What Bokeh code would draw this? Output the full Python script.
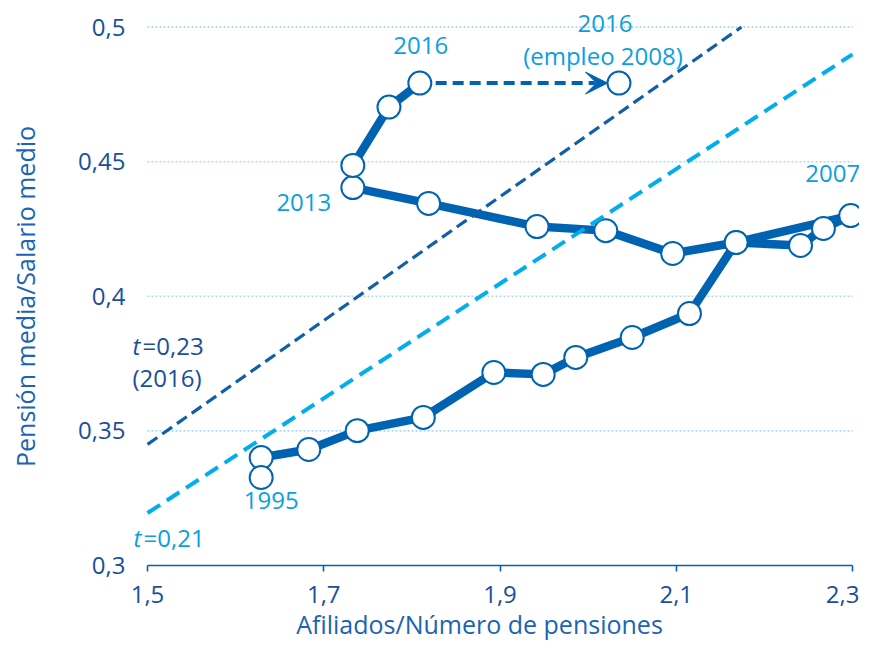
from bokeh.plotting import figure
from bokeh.models import ColumnDataSource, LabelSet, Arrow, VeeHead, FixedTicker, Range1d, LinearAxis
from bokeh.core.properties import value
from bokeh.embed import file_html
from bokeh.resources import INLINE

# ---- data ----
years_up_to_2007 = list(range(1995, 2008))
x_1995_2007 = [1.629, 1.683, 1.738, 1.813, 1.893, 1.949, 1.986, 2.050, 2.115, 2.168, 2.241, 2.267, 2.298]
y_1995_2007 = [0.3401, 0.3431, 0.3501, 0.3550, 0.3717, 0.3710, 0.3773, 0.3847, 0.3936, 0.4200, 0.4189, 0.4252, 0.4300]
years_2008_2016 = list(range(2008, 2017))
x_2008_2016 = [2.168, 2.096, 2.020, 1.942, 1.819, 1.733, 1.733, 1.774, 1.809]
y_2008_2016 = [0.4200, 0.4159, 0.4244, 0.4259, 0.4345, 0.4404, 0.4486, 0.4703, 0.4792]
x_extra = [1.629]
y_extra = [0.3327]
x_2016_empleo2008 = [2.035]
y_2016_empleo2008 = [0.4792]

t_values = [0.23, 0.213]
t_x_start = [1.5, 1.5]
t_y_top = 0.5
t_x_limit = 2.3

x_ticks = [1.5, 1.7, 1.9, 2.1, 2.3]
x_tick_labels = ["1,5", "1,7", "1,9", "2,1", "2,3"]
y_ticks = [0.3, 0.35, 0.4, 0.45, 0.5]
y_tick_labels = ["0,3", "0,35", "0,4", "0,45", "0,5"]

x_title = "Afiliados/Número de pensiones"
y_title = "Pensión media/Salario medio"

# ---- styles ----
FONT = "Open Sans"
MAIN = "#0063B1"
DARK_DASH = "#125FA9"
LIGHT_DASH = "#00AEEF"
CYAN_TXT = "#0AA0E0"
NAVY_TXT = "#1A4F9A"
TITLE_TXT = "#1A64B3"
GRID = "#A6DBF3"

p = figure(width=859, height=641,
           x_range=Range1d(1.33319, 2.307943), y_range=Range1d(0.27177, 0.50803),
           output_backend="svg", toolbar_location=None,
           min_border_left=0, min_border_right=0, min_border_top=5, min_border_bottom=0)
p.outline_line_color = None
p.xgrid.visible = False
p.ygrid.visible = False
p.background_fill_color = "white"

# grid lines (dotted) over the x extent of the axis
gy = [v for v in y_ticks if v > y_ticks[0]]
p.segment(x0=[x_ticks[0]] * len(gy), x1=[x_ticks[-1]] * len(gy), y0=gy, y1=gy,
          line_color=GRID, line_width=1.6, line_dash="2 2")

# x axis (ticks and labels)
xa = p.xaxis[0]
xa.fixed_location = y_ticks[0]
xa.ticker = FixedTicker(ticks=x_ticks)
xa.major_label_overrides = dict(zip(x_ticks, x_tick_labels))
xa.bounds = (x_ticks[0], x_ticks[-1])
xa.axis_line_color = MAIN
xa.axis_line_width = 1.6
xa.major_tick_line_color = MAIN
xa.major_tick_line_width = 1.6
xa.major_tick_out = 6
xa.major_tick_in = 0
xa.minor_tick_line_color = None
xa.major_label_text_font = FONT
xa.major_label_text_font_size = "24px"
xa.major_label_text_color = NAVY_TXT
xa.major_label_standoff = 14

# x axis title (separate, line-less axis so the title can be centred where the original is)
xt = LinearAxis(fixed_location=y_ticks[0], ticker=FixedTicker(ticks=[]), bounds=(1.48, 2.2734),
                axis_line_color=None, major_tick_line_color=None, minor_tick_line_color=None,
                major_tick_out=0, major_tick_in=0, major_label_standoff=0,
                axis_label=x_title, axis_label_text_font=FONT, axis_label_text_font_size="25px",
                axis_label_text_font_style="normal", axis_label_text_color=TITLE_TXT,
                axis_label_standoff=41)
p.add_layout(xt, "below")

# y axis, pinned just left of x = 1.5 so its title is centred on 0.3-0.5
ya = p.yaxis[0]
ya.fixed_location = 1.479574
ya.ticker = FixedTicker(ticks=y_ticks)
ya.major_label_overrides = dict(zip(y_ticks, y_tick_labels))
ya.bounds = (y_ticks[0], y_ticks[-1])
ya.axis_line_color = None
ya.major_tick_line_color = None
ya.minor_tick_line_color = None
ya.major_tick_out = 0
ya.major_tick_in = 0
ya.major_label_text_font = FONT
ya.major_label_text_font_size = "24px"
ya.major_label_text_color = NAVY_TXT
ya.major_label_standoff = 4
ya.axis_label = y_title
ya.axis_label_text_font = FONT
ya.axis_label_text_font_size = "25px"
ya.axis_label_text_font_style = "normal"
ya.axis_label_text_color = TITLE_TXT
ya.axis_label_standoff = 33

# main path
path_x = x_1995_2007 + x_2008_2016
path_y = y_1995_2007 + y_2008_2016
p.line(path_x, path_y, line_color=MAIN, line_width=8.5, line_join="round", line_cap="round")

# dashed arrow 2016 -> 2016 (empleo 2008)
p.add_layout(Arrow(x_start=x_2008_2016[-1] + 0.018, y_start=y_2008_2016[-1],
                   x_end=x_2016_empleo2008[0] - 0.013, y_end=y_2016_empleo2008[0],
                   line_color=MAIN, line_width=4, line_dash="11 6",
                   end=VeeHead(size=22, fill_color=MAIN, line_color=MAIN, line_width=1)))

# markers
p.scatter(path_x + x_extra + x_2016_empleo2008, path_y + y_extra + y_2016_empleo2008,
          size=23, fill_color="white", line_color=MAIN, line_width=2)

# t lines: y = t * x
dark_x = [t_x_start[0], t_y_top / t_values[0]]
p.line(dark_x, [t_values[0] * v for v in dark_x], line_color=DARK_DASH, line_width=3.2, line_dash="12 6")
light_x = [t_x_start[1], t_x_limit]
p.line(light_x, [t_values[1] * v for v in light_x], line_color=LIGHT_DASH, line_width=4, line_dash="15 8")

# point labels (centered, pixel offsets from anchor point)
lab_text = ["2016", "2016", "(empleo 2008)", "2013", "2007", "1995"]
lab_x = [x_2008_2016[-1], x_2016_empleo2008[0], x_2016_empleo2008[0], x_2008_2016[5], x_1995_2007[-1], x_extra[0]]
lab_y = [y_2008_2016[-1], y_2016_empleo2008[0], y_2016_empleo2008[0], y_2008_2016[5], y_1995_2007[-1], y_extra[0]]
lab_dx = [1, -14, -16, -49, -18, 10]
lab_dy = [38, 60, 28, -15, 42, -23]
src = ColumnDataSource(dict(x=lab_x, y=lab_y, text=lab_text, dx=lab_dx, dy=lab_dy))
p.add_layout(LabelSet(x="x", y="y", text="text", x_offset="dx", y_offset="dy", source=src,
                      text_align="center", text_baseline="middle", text_font=value(FONT),
                      text_font_size="24px", text_color=CYAN_TXT))

# t line labels
tl_x = [t_x_start[0], t_x_start[0], t_x_start[1]]
tl_y = [t_values[0] * t_x_start[0], t_values[0] * t_x_start[0], t_values[1] * t_x_start[1]]
tsrc_it = ColumnDataSource(dict(x=[tl_x[0], tl_x[2]], y=[tl_y[0], tl_y[2]], text=["t", "t"],
                                dx=[-15, -14], dy=[99, -24], c=[NAVY_TXT, CYAN_TXT]))
p.add_layout(LabelSet(x="x", y="y", text="text", x_offset="dx", y_offset="dy", source=tsrc_it,
                      text_align="left", text_baseline="middle", text_font=value(FONT),
                      text_font_style="italic", text_font_size="24px", text_color="c"))
tsrc = ColumnDataSource(dict(x=tl_x, y=tl_y, text=["=0,23", "(2016)", "=0,21"],
                             dx=[-5, -15, -4], dy=[99, 67, -24], c=[NAVY_TXT, NAVY_TXT, CYAN_TXT]))
p.add_layout(LabelSet(x="x", y="y", text="text", x_offset="dx", y_offset="dy", source=tsrc,
                      text_align="left", text_baseline="middle", text_font=value(FONT),
                      text_font_size="24px", text_color="c"))

open("out.html", "w").write(file_html(p, INLINE))
